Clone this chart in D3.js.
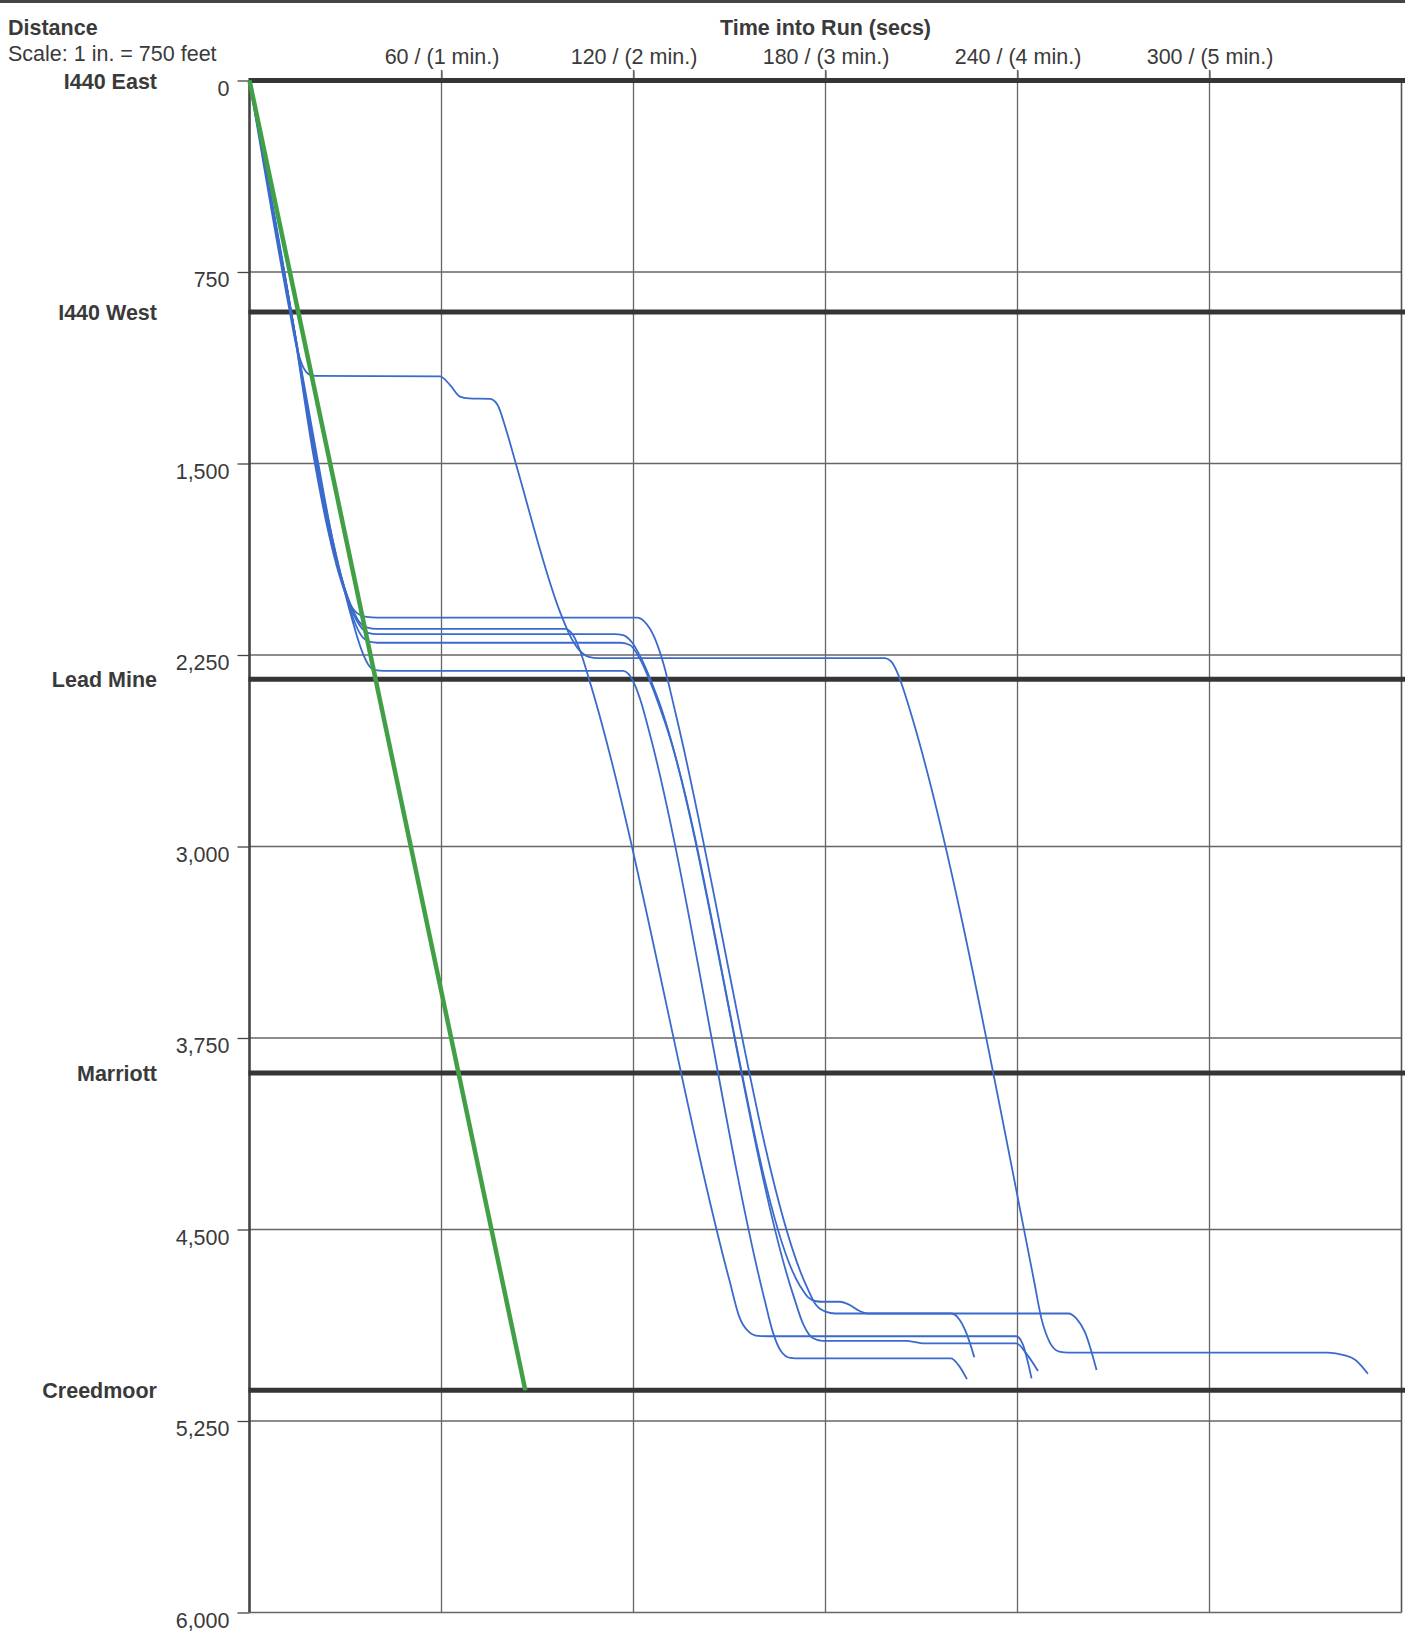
<!DOCTYPE html>
<html><head><meta charset="utf-8">
<script src="https://cdn.jsdelivr.net/npm/d3@7"></script>
<style>
body{margin:0;background:#fff}
text{font-family:"Liberation Sans",Arial,sans-serif;fill:#3a3a3a;font-size:21.5px}
</style>
</head><body><svg id="c" width="1405" height="1631"></svg>
<script>
// ---- data ----
const timeTicks = [60, 120, 180, 240, 300];
const timeTickLabels = ["60 / (1 min.)", "120 / (2 min.)", "180 / (3 min.)", "240 / (4 min.)", "300 / (5 min.)"];
const distTicks = [0, 750, 1500, 2250, 3000, 3750, 4500, 5250, 6000];
const stationNames = ["I440 East", "I440 West", "Lead Mine", "Marriott", "Creedmoor"];
const stationDist = [0, 907, 2345, 3887, 5130];

// scheduled run (green): [seconds, feet]
const scheduleRun = [[0, 0], [86.2, 5130]];

// observed runs (blue): [seconds, feet]
const runA = [[0,0],[12.5,900],[14.7,1043],[16.5,1115],[18.5,1150],[20.5,1157],[59.5,1159],[62.5,1190],[65.8,1238],[68.5,1245],[75.2,1247],[77.5,1270],[80,1360],[83,1490],[97,2080],[100,2170],[103,2230],[106,2257],[109,2262],[198.6,2262],[200.5,2275],[202.5,2320],[204.5,2390],[206,2450],[245,4690],[247.5,4850],[250,4940],[253,4978],[256,4982],[337,4982],[342,4992],[345.5,5010],[349.5,5065]];
const runB = [[0,0],[13,910],[20.5,1480],[25,1780],[28.5,1940],[31.5,2050],[34,2115],[36.6,2142],[40,2148],[98.6,2148],[101,2170],[103.5,2240],[106,2340],[150,4700],[153,4840],[156,4900],[159,4917],[162,4918],[239.6,4918],[241.5,4945],[244.4,5083]];
const runC = [[0,0],[13,905],[21,1490],[25.5,1790],[29,1960],[32,2075],[34.5,2135],[37,2163],[40,2168],[114,2168],[116.7,2172],[119.5,2200],[122.5,2265],[127,2400],[170,4760],[173,4870],[176,4925],[179,4936],[205,4936],[211,4946],[239.6,4946],[243,4990],[246.4,5054]];
const runD = [[0,0],[13,905],[21,1490],[26,1800],[29.5,1980],[32.5,2110],[35,2175],[37.5,2198],[40,2202],[116,2202],[119,2212],[122,2265],[126,2380],[130,2520],[172,4720],[174.5,4765],[177,4781],[179,4783],[184.5,4783],[187.5,4795],[190.5,4818],[193.5,4829],[255.9,4829],[258.5,4850],[261,4900],[264.7,5050]];
const runE = [[0,0],[13,905],[20,1470],[24.5,1760],[28,1935],[31,2040],[33.5,2085],[36.5,2101],[40,2104],[121.1,2104],[123.5,2120],[126.5,2180],[129.5,2290],[133,2470],[174,4720],[177,4795],[180,4822],[183,4829],[219.3,4829],[222,4855],[224,4905],[226.5,5000]];
const runF = [[0,0],[13,905],[21.5,1500],[26,1800],[29.5,1990],[32.5,2130],[35,2230],[37,2285],[39,2308],[42,2312],[116.8,2312],[118.5,2325],[120.5,2370],[122.5,2440],[124.5,2531],[161,4777],[163.5,4900],[166,4975],[169,5003],[172,5005],[219.2,5005],[221.5,5030],[224.2,5086]];
const observedRuns = [runA, runB, runC, runD, runE, runF];

// ---- drawing ----
const svg = d3.select("#c");
const x = d3.scaleLinear().domain([0, 360]).range([249.5, 1401.5]);
const y = d3.scaleLinear().domain([0, 6000]).range([80.5, 1612.5]);
const gridCol = "#666", darkCol = "#353535";

// top border
svg.append("line").attr("x1",0).attr("x2",1405).attr("y1",1.5).attr("y2",1.5)
  .attr("stroke","#444").attr("stroke-width",3);

// horizontal gridlines
svg.append("g").selectAll("line").data(distTicks).join("line")
  .attr("x1", x(0)).attr("x2", x(360)).attr("y1", d=>y(d)).attr("y2", d=>y(d))
  .attr("stroke", gridCol).attr("stroke-width", 1.3);

// vertical gridlines
svg.append("g").selectAll("line").data(timeTicks).join("line")
  .attr("x1", d=>x(d)).attr("x2", d=>x(d)).attr("y1", 70).attr("y2", y(6000))
  .attr("stroke", gridCol).attr("stroke-width", 1.3);
// right border
svg.append("line").attr("x1", x(360)).attr("x2", x(360)).attr("y1", y(0)).attr("y2", y(6000))
  .attr("stroke", "#555").attr("stroke-width", 1.6);

// y axis (left) with ticks + labels
const yAxis = d3.axisLeft(y).tickValues(distTicks).tickFormat(d3.format(",")).tickSize(12).tickPadding(8);
const gy = svg.append("g").attr("transform", `translate(${x(0)},0)`).call(yAxis);
gy.select(".domain").remove();
gy.selectAll(".tick line").attr("stroke", "#444").attr("stroke-width", 1.3);
gy.selectAll(".tick text").attr("dy", 14.5).attr("font-size", 21.5).attr("font-family", null).attr("fill", "#3a3a3a");
svg.append("line").attr("x1", x(0)).attr("x2", x(0)).attr("y1", y(0)).attr("y2", y(6000))
  .attr("stroke", "#444").attr("stroke-width", 2.6);

// x axis (top) labels
const xAxis = d3.axisTop(x).tickValues(timeTicks).tickFormat((d,i)=>timeTickLabels[i]).tickSize(10).tickPadding(7);
const gx = svg.append("g").attr("transform", `translate(0,${y(0)})`).call(xAxis);
gx.select(".domain").remove();
gx.selectAll(".tick line").attr("stroke", gridCol).attr("stroke-width", 1.3);
gx.selectAll(".tick text").attr("font-size", 21.5).attr("font-family", null).attr("fill", "#3a3a3a");

// station lines
svg.append("g").selectAll("line").data(stationDist).join("line")
  .attr("x1", x(0) - 1).attr("x2", 1405).attr("y1", d=>y(d)).attr("y2", d=>y(d))
  .attr("stroke", darkCol).attr("stroke-width", 5);
svg.append("g").selectAll("text").data(stationNames).join("text")
  .attr("x", 157).attr("y", (d,i)=>y(stationDist[i]) + 8)
  .attr("text-anchor", "end").attr("font-weight", "bold").text(d=>d);

// titles
svg.append("text").attr("x", 8).attr("y", 35).attr("font-weight","bold").text("Distance");
svg.append("text").attr("x", 8).attr("y", 61).text("Scale: 1 in. = 750 feet");
svg.append("text").attr("x", x(180)).attr("y", 35).attr("text-anchor","middle").attr("font-weight","bold").text("Time into Run (secs)");

// runs
const line = d3.line().x(d=>x(d[0])).y(d=>y(d[1])).curve(d3.curveMonotoneX);
svg.append("g").selectAll("path").data(observedRuns).join("path")
  .attr("d", line).attr("fill","none").attr("stroke","#3a6bcc").attr("stroke-width",1.8);
svg.append("path").datum(scheduleRun).attr("d", d3.line().x(d=>x(d[0])).y(d=>y(d[1])))
  .attr("fill","none").attr("stroke","#41a046").attr("stroke-width",4.5);
</script></body></html>
